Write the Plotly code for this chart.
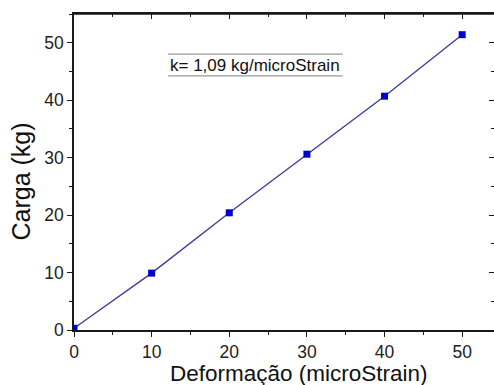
import plotly.graph_objects as go

deformacao = [0, 10, 20, 30, 40, 50]
carga = [0.3, 9.9, 20.4, 30.6, 40.7, 51.4]
x_ticks = [0, 10, 20, 30, 40, 50]
y_ticks = [0, 10, 20, 30, 40, 50]
x_title = "Deformação (microStrain)"
y_title = "Carga (kg)"
note = "k= 1,09 kg/microStrain"

FONT = "Liberation Sans, Arial, sans-serif"
XR = [0, 54.1]
YR = [0, 55]
AX = "#1a1a1a"

fig = go.Figure()
fig.add_trace(go.Scatter(
    x=deformacao, y=carga, mode="lines+markers",
    line=dict(color="#3a3a9a", width=1.3),
    marker=dict(symbol="square", size=7, color="#0000cc"),
    showlegend=False, hoverinfo="x+y",
))
# invisible trace for the top/right frame axes
fig.add_trace(go.Scatter(x=[deformacao[0]], y=[carga[0]], xaxis="x2", yaxis="y2",
                         mode="markers", marker=dict(opacity=0), showlegend=False,
                         hoverinfo="skip"))

axis_common = dict(showgrid=False, zeroline=False, showline=True, linecolor=AX,
                   linewidth=1.5, tickcolor=AX, tickwidth=1.2, automargin=False)
fig.update_layout(
    width=494, height=385,
    margin=dict(l=74, r=0, t=14, b=55),
    paper_bgcolor="white", plot_bgcolor="rgba(0,0,0,0)",
    font=dict(family=FONT, color="#222"),
    xaxis=dict(range=XR, tickvals=x_ticks, ticks="outside", ticklen=5,
               tickfont=dict(size=17.5),
               minor=dict(dtick=5, ticks="outside", ticklen=3, tickcolor=AX),
               **axis_common),
    yaxis=dict(range=YR, tickvals=y_ticks, ticks="outside", ticklen=5,
               tickfont=dict(size=17.5),
               minor=dict(dtick=5, ticks="outside", ticklen=3, tickcolor=AX),
               **axis_common),
    xaxis2=dict(range=XR, overlaying="x", side="top", anchor="y2", tickvals=x_ticks,
                ticks="inside", ticklen=5, showticklabels=False,
                minor=dict(dtick=5, ticks="inside", ticklen=3, tickcolor=AX),
                **axis_common),
    yaxis2=dict(range=YR, overlaying="y", side="right", anchor="x2", tickvals=y_ticks,
                ticks="inside", ticklen=5, showticklabels=False,
                minor=dict(dtick=5, ticks="inside", ticklen=3, tickcolor=AX),
                **axis_common),
)

# top frame line (explicit, so it is always visible)
fig.add_shape(type="line", xref="paper", yref="paper", x0=0, x1=1, y0=1, y1=1,
              line=dict(color=AX, width=1.6), layer="above")

# axis titles
fig.add_annotation(text=x_title, xref="paper", yref="paper", x=0.536, y=-0.138,
                   xanchor="center", yanchor="middle", showarrow=False,
                   font=dict(size=22.5, family=FONT, color="#111"))
fig.add_annotation(text=y_title, xref="paper", yref="paper", x=-0.126, y=0.47,
                   xanchor="center", yanchor="middle", textangle=-90, showarrow=False,
                   font=dict(size=25, family=FONT, color="#111"))

fig.add_annotation(text=note, xref="paper", yref="paper", x=0.43, y=0.838,
                   xanchor="center", yanchor="middle",
                   showarrow=False, font=dict(size=17, family=FONT, color="#111"))
for yy in (0.873, 0.804):
    fig.add_shape(type="line", xref="paper", yref="paper", x0=0.224, x1=0.64, y0=yy, y1=yy,
                  line=dict(color="#999", width=1.2))

fig.write_html("out.html")
